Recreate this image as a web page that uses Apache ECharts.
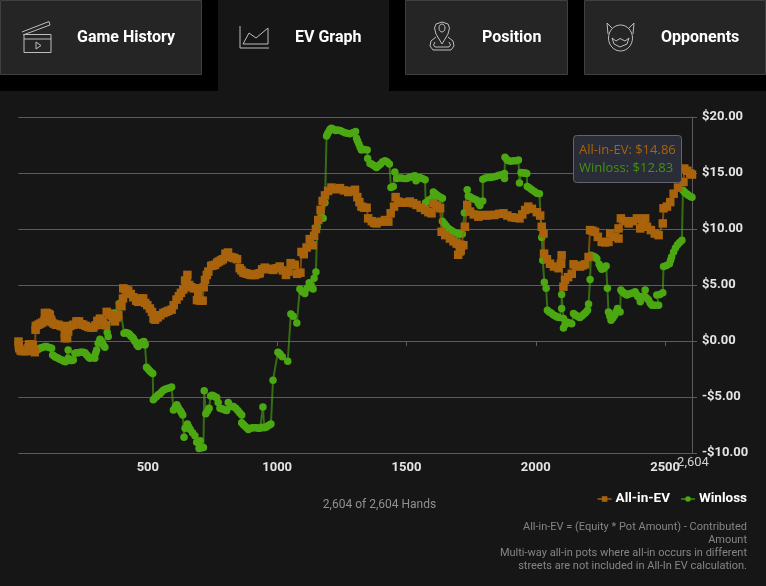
<!DOCTYPE html>
<html><head><meta charset="utf-8">
<style>html,body{margin:0;padding:0;background:#161616}#c{width:766px;height:586px}</style>
<script src="https://cdn.jsdelivr.net/npm/echarts@6/dist/echarts.min.js"></script>
</head><body><div id="c"></div>
<script>
const tabNames = ['Game History','EV Graph','Position','Opponents'];
const xTicks = [500,1000,1500,2000,2500];
const totalHands = 2604;
const allInEv = [[0,-0.05],[1,-0.4],[3,-0.65],[8,-0.85],[14,-0.9],[22,-0.9],[31,-0.9],[38,-0.6],[41,-0.3],[48,-0.3],[55,-0.35],[60,-0.8],[63,-1],[66,1],[67,1.35],[76,1.45],[84,1.55],[92,1.65],[100,1.8],[108,1.9],[102,2.5],[110,2.5],[118,2.4],[121,2.3],[126,1.9],[128,1.7],[136,1.55],[145,1.45],[154,1.45],[163,1.35],[172,1.3],[182,1.3],[192,1.3],[186,0.95],[179,0.7],[179,0.25],[188,0.25],[192,0.85],[200,1.35],[212,1.45],[224,1.75],[234,1.75],[243,1.5],[250,1.45],[260,1.35],[270,1.25],[280,1.2],[289,1.2],[298,1.4],[305,1.8],[315,2],[324,1.8],[330,1.45],[338,1.4],[341,2.6],[350,2.45],[360,2.3],[366,2],[373,1.75],[380,2.1],[386,2.3],[392,3.2],[398,3.1],[404,3.8],[405,4.7],[414,4.6],[424,4.5],[434,4.2],[444,3.9],[455,3.6],[463,3.5],[472,3.8],[482,3.8],[490,3.4],[498,3.2],[508,2.9],[516,2.6],[522,2],[528,1.9],[538,2.1],[548,2.3],[560,2.5],[570,2.6],[580,2.7],[592,2.8],[600,3.2],[611,3.7],[620,4],[628,4.3],[637,4.6],[644,5.4],[653,5.9],[650,5.2],[660,5],[668,4.8],[678,4.7],[689,4.7],[695,4.1],[702,3.6],[690,3.65],[712,3.6],[716,4.8],[721,5.45],[728,5.9],[734,6.2],[745,6.7],[752,6.75],[760,6.8],[768,7],[775,7.1],[783,7.2],[790,7.3],[800,7.8],[810,7.9],[820,7.5],[828,7.45],[835,7.4],[845,7.3],[855,6.5],[862,6.3],[870,6.1],[878,6.05],[885,6],[893,5.95],[900,5.9],[908,5.9],[915,5.9],[925,6],[933,6.05],[942,6.4],[952,6.55],[965,6.45],[975,6.4],[985,6.35],[998,6.5],[1010,6.65],[1022,6.3],[1034,5.9],[1044,6.2],[1052,6.95],[1060,6.8],[1068,6.8],[1077,6],[1090,6.1],[1094,7.95],[1103,7.75],[1114,8.35],[1126,9.1],[1137,8.55],[1143,9.4],[1150,10],[1159,10.8],[1168,11.7],[1176,12.5],[1185,13],[1197,13.4],[1210,13.7],[1226,13.55],[1243,13.65],[1258,13.45],[1275,13.3],[1288,13.4],[1301,13.5],[1310,12.85],[1318,12.4],[1326,12],[1336,11.9],[1346,11.9],[1352,10.95],[1366,10.7],[1375,10.55],[1384,10.5],[1400,10.65],[1417,10.8],[1430,10.65],[1439,11.4],[1452,12],[1458,12.85],[1468,12.45],[1482,12.35],[1498,12.35],[1513,12.45],[1526,12.3],[1539,12.15],[1555,11.9],[1572,11.7],[1585,11.5],[1597,11.4],[1604,12.3],[1618,12.1],[1630,11.85],[1636,9.75],[1650,9.45],[1668,9.15],[1682,8.9],[1694,8.7],[1708,8.6],[1720,8.55],[1710,8.1],[1700,7.7],[1707,8],[1726,10.2],[1735,12.15],[1746,11.55],[1760,11.3],[1778,11.1],[1792,11.25],[1808,11.2],[1823,11.25],[1840,11.25],[1858,11.35],[1875,11.4],[1890,11.2],[1907,11.05],[1922,11],[1937,10.95],[1948,11.3],[1959,11.7],[1971,12],[1985,11.8],[2004,11.5],[2017,11.2],[2023,10.2],[2030,9.6],[2032,7.8],[2043,7.3],[2055,6.9],[2070,6.65],[2088,6.5],[2097,6.9],[2100,7.65],[2098,6.9],[2107,4.85],[2113,5.45],[2125,5.7],[2139,6],[2146,6.85],[2158,6.7],[2171,6.65],[2181,6.75],[2191,6.85],[2204,7.5],[2210,9.9],[2219,9.85],[2229,9.75],[2240,9.3],[2255,8.85],[2268,8.8],[2281,8.85],[2288,9.6],[2305,9.3],[2320,9.15],[2320,10.05],[2329,10.95],[2344,10.7],[2359,10.5],[2375,10.7],[2391,10.95],[2404,10.05],[2414,10.4],[2423,10.95],[2430,10.2],[2445,9.9],[2460,9.6],[2475,9.45],[2491,10.5],[2494,11.85],[2507,12],[2520,12.4],[2533,13.15],[2550,13.7],[2571,14.2],[2574,15.4],[2586,15.2],[2597,14.95],[2604,14.86]];
const winloss = [[0,-0.05],[20,-0.8],[50,-0.7],[66,-0.8],[76,-0.75],[82,-0.65],[89,-0.6],[95,-0.55],[102,-0.5],[108,-0.5],[115,-0.55],[122,-0.6],[128,-0.65],[132,-1.25],[138,-1.35],[143,-1.45],[149,-1.5],[154,-1.55],[161,-1.65],[168,-1.7],[175,-1.8],[182,-1.85],[192,-0.8],[192,-1.55],[197,-1.65],[202,-1.75],[207,-1.75],[212,-1.7],[218,-1.1],[225,-1.05],[232,-1.05],[238,-1],[245,-1],[251,-1],[257,-1.05],[262,-1.2],[266,-1.3],[271,-1.45],[276,-1.55],[285,-1.5],[295,-1.55],[298,-1.1],[302,-0.8],[308,-0.2],[315,0.15],[320,0],[324,-0.2],[329,-0.4],[334,-0.55],[343,0.75],[347,0.4],[356,2.2],[372,2.5],[390,3.35],[408,0.7],[415,0.75],[424,0.7],[429,0.6],[434,0.45],[439,0.35],[444,0.25],[449,0],[453,-0.1],[458,-0.35],[463,-0.5],[468,-0.35],[473,-0.2],[479,-0.1],[485,-0.05],[489,-0.35],[495,-2.35],[501,-2.5],[507,-2.65],[513,-2.8],[519,-2.9],[521,-5.25],[527,-5.1],[534,-4.95],[540,-4.8],[547,-4.7],[553,-4.55],[560,-4.4],[567,-4.3],[575,-4.25],[583,-4.2],[592,-4.1],[599,-6.15],[606,-5.9],[612,-5.7],[618,-5.95],[625,-6.2],[630,-6.4],[635,-6.6],[640,-8.6],[644,-7.8],[653,-7.4],[658,-7.65],[664,-7.9],[673,-8.2],[682,-8.45],[689,-9.05],[695,-9],[702,-8.9],[698,-9.6],[706,-9.55],[715,-9.5],[718,-4.45],[724,-6.5],[731,-6.25],[737,-6],[743,-4.9],[749,-4.85],[755,-4.9],[761,-5],[766,-5.05],[772,-5.5],[779,-6],[785,-6.05],[792,-6.1],[798,-6.15],[805,-6.2],[811,-5.5],[820,-5.8],[825,-5.85],[831,-5.85],[840,-6],[848,-6.2],[855,-6.4],[863,-6.6],[863,-7.3],[869,-7.45],[875,-7.6],[882,-7.75],[889,-7.9],[897,-7.8],[905,-7.75],[912,-7.75],[920,-7.75],[927,-7.8],[934,-7.8],[941,-7.7],[945,-5.9],[950,-7.75],[957,-7.7],[963,-7.6],[970,-7.5],[976,-7.4],[984,-3.5],[1003,-1],[1008,-1.1],[1012,-1.2],[1020,-1.4],[1041,-1.8],[1053,2.4],[1062,2.2],[1076,1.6],[1088,4.65],[1097,4.4],[1107,4.25],[1116,4.7],[1124,5.2],[1132,4.9],[1139,4.65],[1143,5.6],[1150,6.15],[1155,10.2],[1169,11.1],[1178,10.95],[1185,12.35],[1191,18.3],[1195,18.5],[1200,18.7],[1205,18.9],[1210,19],[1218,18.9],[1226,18.8],[1234,18.85],[1243,18.8],[1252,18.7],[1262,18.6],[1271,18.55],[1281,18.5],[1292,18.6],[1303,18.7],[1307,18.1],[1311,17.85],[1316,17.6],[1321,17.3],[1326,17.05],[1337,17.1],[1348,17.05],[1350,16.3],[1359,15.85],[1365,15.8],[1372,15.7],[1378,15.6],[1384,15.5],[1392,15.65],[1400,15.8],[1408,16],[1417,16.1],[1425,16],[1434,15.8],[1440,13.7],[1449,13.8],[1455,15.1],[1462,14.5],[1471,14.55],[1480,14.55],[1490,14.5],[1501,14.5],[1510,14.6],[1518,14.65],[1526,14.7],[1533,14.75],[1537,14.3],[1545,14.5],[1552,14.6],[1562,14.5],[1572,14.4],[1574,12.35],[1586,12.6],[1600,12.8],[1604,13.3],[1612,13.15],[1620,13],[1630,12.85],[1639,12.75],[1639,10.7],[1646,10.5],[1653,10.3],[1660,10.1],[1668,9.95],[1675,9.85],[1681,9.75],[1690,9.65],[1700,9.6],[1700,8.5],[1708,9.55],[1716,9.55],[1724,11.45],[1735,13.5],[1739,12.95],[1747,12.85],[1755,12.75],[1763,12.65],[1771,12.6],[1778,12.3],[1784,12.1],[1795,12.5],[1795,14.45],[1805,14.55],[1815,14.6],[1825,14.6],[1836,14.65],[1847,14.7],[1858,14.8],[1868,14.85],[1879,14.95],[1879,14.5],[1881,16.4],[1888,16.2],[1894,16.1],[1904,16.05],[1915,16.1],[1924,16.1],[1933,16.15],[1937,14.1],[1943,15.05],[1949,15],[1955,15],[1960,15],[1965,14.95],[1967,13.8],[1976,13.65],[1985,13.5],[1995,13.35],[2004,13.2],[2014,13.15],[2023,9.25],[2027,7.2],[2033,5.25],[2040,4.7],[2045,2.75],[2052,2.6],[2060,2.5],[2067,2.35],[2075,2.25],[2082,2.15],[2090,2.1],[2100,2.9],[2100,4.15],[2107,2],[2107,1.15],[2113,1.45],[2120,1.7],[2130,1.6],[2139,1.55],[2146,2.45],[2152,2.35],[2158,2.25],[2165,2.15],[2171,2.1],[2179,2.25],[2186,2.4],[2193,2.55],[2200,2.75],[2204,3.3],[2210,5.5],[2213,7.65],[2219,7.6],[2225,7.55],[2231,7.45],[2236,7.35],[2245,6.85],[2250,6.6],[2255,6.4],[2264,6.5],[2272,6.7],[2277,4.7],[2281,2.6],[2286,2.2],[2291,1.85],[2298,2.05],[2305,2.3],[2310,2.6],[2316,2.9],[2326,2.6],[2329,4.55],[2334,4.4],[2340,4.3],[2346,4.2],[2352,4.1],[2360,4.2],[2368,4.25],[2376,4.3],[2384,4.4],[2390,4.15],[2395,3.95],[2404,3.5],[2413,4],[2423,4.55],[2423,3.95],[2430,3.8],[2436,3.65],[2442,3.4],[2449,3.2],[2455,3.2],[2462,3.2],[2475,3.2],[2468,4.1],[2480,4.15],[2491,4.3],[2494,6.65],[2505,6.75],[2517,6.9],[2521,7.2],[2525,7.5],[2533,7.95],[2540,8.3],[2548,8.6],[2556,8.8],[2565,9],[2569,13.45],[2575,13.3],[2580,13.2],[2586,13.1],[2591,13],[2598,12.9],[2604,12.83]];

const EV='#a8630c', WL='#4ca812', GREY='#909090';
const ink='#bdbdbd';
function tab(x,w,active){return {type:'rect',silent:true,z:1,shape:active?{x,y:0,width:w,height:91}:{x:x+.5,y:.5,width:w-1,height:74},style:{fill:active?'#161616':'#252525',stroke:active?null:'#404040',lineWidth:1}};}
function label(t,x){return {type:'text',z:2,silent:true,x,y:38,style:{text:t,fill:'#fff',font:'bold 16px Roboto',textVerticalAlign:'middle'}};}
function pl(points,extra){return {type:'polyline',z:2,silent:true,shape:{points},style:Object.assign({stroke:ink,fill:null,lineWidth:1},extra||{})};}
function circ(cx,cy,rx,ry){return {type:'ellipse',z:2,silent:true,shape:{cx,cy,rx,ry},style:{stroke:ink,fill:null,lineWidth:1}};}
const graphics=[
 {type:'rect',silent:true,z:0,shape:{x:0,y:0,width:766,height:91},style:{fill:'#000'}},
 tab(0,202),tab(218,171,true),tab(405,163),tab(584,182),
 label(tabNames[0],77),label(tabNames[1],295),label(tabNames[2],482),label(tabNames[3],661),
 {type:'rect',z:2,silent:true,shape:{x:24,y:34.5,width:27,height:18},style:{stroke:ink,fill:null,lineWidth:1}},
 pl([[24,39],[51,39]]),pl([[22,32],[49,21.5],[50,25],[23,35]]),pl([[36,42],[36,49],[41,45.5],[36,42]]),
 pl([[240,26],[240,48],[269,48]]),pl([[243,44],[249,33],[256,38],[268,28],[268,44],[243,44]]),
 circ(442,28,3,4),pl([[442,44],[436,34],[434.5,28],[436,24],[442,22],[448,24],[449.5,28],[448,34],[442,44]]),
 pl([[436,37],[431,41],[430,46],[433,50],[451,50],[454,46],[453,41],[448,37]]),
 pl([[435,42],[433.5,45],[435,47],[449,47],[450.5,45],[449,42]]),
 circ(620.5,38,12,13),pl([[608,34],[607,23],[612,28]]),pl([[633,34],[634,23],[629,28]]),
 pl([[612,38],[616,41],[620,38.5],[625,41],[629,38],[627,44],[620,47],[614,44],[612,38]]),
 {type:'text',z:2,silent:true,x:379.5,y:505,style:{text:'2,604 of 2,604 Hands',fill:GREY,font:'12px Roboto',textAlign:'center',textVerticalAlign:'middle'}},
 {type:'text',z:2,silent:true,x:693,y:463,style:{text:'2,604',fill:'#d0d0d0',font:'13px Roboto',textAlign:'center',textVerticalAlign:'middle'}},
 ...['All-in-EV = (Equity * Pot Amount) - Contributed','Amount','Multi-way all-in pots where all-in occurs in different','streets are not included in All-In EV calculation.'].map((t,i)=>({type:'text',z:2,silent:true,x:747,y:527+i*13,style:{text:t,fill:'#858585',font:'11px Roboto',textAlign:'right',textVerticalAlign:'middle'}})),
 {type:'rect',silent:true,z:100,shape:{x:573.5,y:135.5,width:108,height:47,r:3},style:{fill:'#2a2c38',stroke:'#62636b',lineWidth:1}},
 {type:'text',silent:true,z:101,x:579,y:150,style:{text:'All-in-EV: $14.86',fill:EV,font:'13px "Open Sans"',textVerticalAlign:'middle'}},
 {type:'text',silent:true,z:101,x:579,y:168,style:{text:'Winloss: $12.83',fill:'#3f9410',font:'13px "Open Sans"',textVerticalAlign:'middle'}}
];
const chart=echarts.init(document.getElementById('c'),null,{renderer:'canvas'});
chart.setOption({
 animation:false,backgroundColor:'#161616',
 grid:{left:18.5,right:74,top:117,bottom:133},
 legend:{show:true,right:14,top:487,itemWidth:14,itemHeight:7,itemGap:10,selectedMode:false,
   textStyle:{color:'#fff',fontFamily:'Roboto',fontWeight:'bold',fontSize:13.5,padding:[0,0,0,-1]},
   data:[{name:'All-in-EV'},{name:'Winloss'}]},
 xAxis:{type:'value',min:0,max:totalHands,interval:500,splitLine:{show:false},
   axisLine:{lineStyle:{color:'#5c5c5c'}},axisTick:{length:5,lineStyle:{color:'#5c5c5c'},customValues:xTicks},
   axisLabel:{color:'#e4e4e4',fontFamily:'Roboto',fontWeight:'bold',fontSize:13,margin:8,customValues:xTicks,formatter:v=>String(v)}},
 yAxis:{type:'value',position:'right',min:-10,max:20,interval:5,
   splitLine:{lineStyle:{color:'#5c5c5c'}},
   axisLine:{show:true,onZero:false,lineStyle:{color:'#5c5c5c'}},axisTick:{show:true,length:5,lineStyle:{color:'#5c5c5c'}},
   axisLabel:{color:'#e4e4e4',fontFamily:'Roboto',fontWeight:'bold',fontSize:13,margin:10,
     formatter:v=>(v<0?'-$':'$')+Math.abs(v).toFixed(2)}},
 series:[
  {name:'All-in-EV',type:'line',z:3,data:allInEv,symbol:'rect',symbolSize:8.5,showAllSymbol:true,clip:false,
   itemStyle:{color:EV},lineStyle:{color:EV,width:2,opacity:.7}},
  {name:'Winloss',type:'line',z:2,data:winloss,symbol:'circle',symbolSize:7.5,showAllSymbol:true,clip:false,
   itemStyle:{color:WL},lineStyle:{color:WL,width:2,opacity:.6}}
 ],
 graphic:{elements:graphics}
});
</script></body></html>
